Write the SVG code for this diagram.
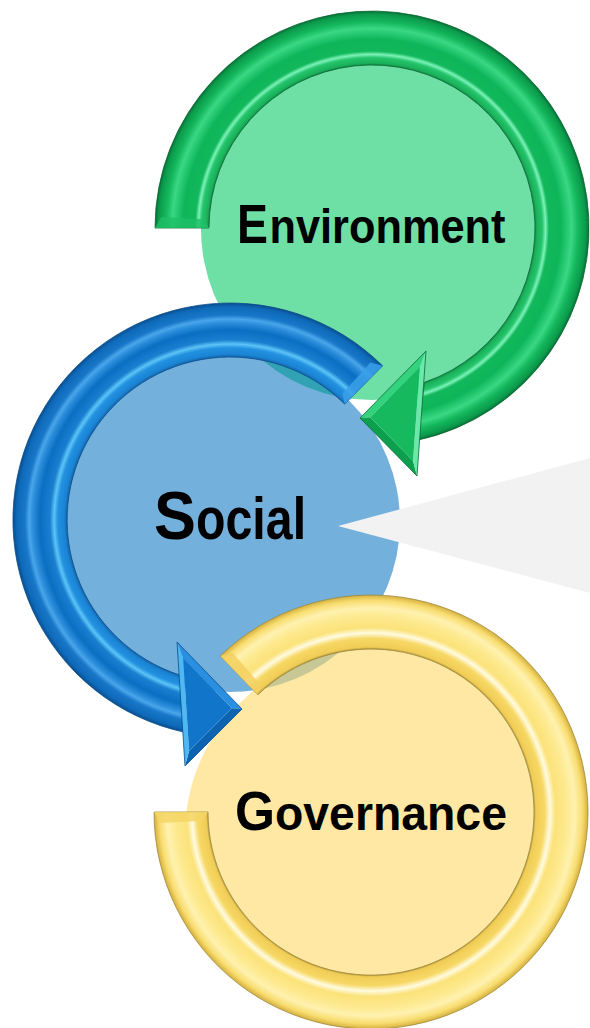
<svg xmlns="http://www.w3.org/2000/svg" width="590" height="1028" viewBox="0 0 590 1028">
<style>
.lbl{font-family:"Liberation Sans",Arial,sans-serif;font-weight:bold;fill:#000;}
.gEdge{stroke:#0b6a34;stroke-width:0.8;}
.bEdge{stroke:#0a4d8c;stroke-width:0.8;}
.yEdge{stroke:#a08a3a;stroke-width:0.8;}
</style>
<defs>
<radialGradient id="gradG" gradientUnits="userSpaceOnUse" cx="372" cy="228" r="217">
<stop offset="0.745" stop-color="#0c6e36"/>
<stop offset="0.76" stop-color="#19b05a"/>
<stop offset="0.785" stop-color="#25c56c"/>
<stop offset="0.80" stop-color="#7cf2b8"/>
<stop offset="0.815" stop-color="#12b85b"/>
<stop offset="0.87" stop-color="#0db659"/>
<stop offset="0.92" stop-color="#3ad784"/>
<stop offset="0.95" stop-color="#14b85d"/>
<stop offset="0.985" stop-color="#0b9a4b"/>
<stop offset="1" stop-color="#086f37"/>
</radialGradient>
<radialGradient id="gradB" gradientUnits="userSpaceOnUse" cx="230" cy="520" r="217">
<stop offset="0.745" stop-color="#10599c"/>
<stop offset="0.765" stop-color="#1b84d4"/>
<stop offset="0.793" stop-color="#2290e0"/>
<stop offset="0.811" stop-color="#5cc4f6"/>
<stop offset="0.83" stop-color="#1a7fcf"/>
<stop offset="0.876" stop-color="#0a6fc2"/>
<stop offset="0.908" stop-color="#2b8ddb"/>
<stop offset="0.926" stop-color="#4aa6ea"/>
<stop offset="0.945" stop-color="#1877c8"/>
<stop offset="0.982" stop-color="#0e6ab9"/>
<stop offset="1" stop-color="#0a4e8e"/>
</radialGradient>
<radialGradient id="gradY" gradientUnits="userSpaceOnUse" cx="371" cy="812" r="217">
<stop offset="0.745" stop-color="#8a7632"/>
<stop offset="0.76" stop-color="#f0cc55"/>
<stop offset="0.80" stop-color="#f7d865"/>
<stop offset="0.825" stop-color="#fffbe0"/>
<stop offset="0.85" stop-color="#fbe27a"/>
<stop offset="0.90" stop-color="#fde98e"/>
<stop offset="0.94" stop-color="#fff2b0"/>
<stop offset="0.975" stop-color="#f8dc6e"/>
<stop offset="1" stop-color="#d4b040"/>
</radialGradient>
</defs>

<g id="fills">
<circle cx="372" cy="229" r="171" fill="#6edfa5"/>
<circle cx="230" cy="522" r="170" fill="#0070c0" fill-opacity="0.55"/>
<circle cx="371" cy="835" r="186" fill="#ffd966" fill-opacity="0.6"/>
</g>

<g id="callout">
<polygon points="338,526 590,458 590,593" fill="#f2f2f2"/>
</g>

<g id="connectors">
<g id="arrow-green">
<path class="gEdge" fill="url(#gradG)" d="M155,228 A217,217 0 1 1 417.1,440.3 L424.5,382.3 A163,163 0 1 0 209,228 Z"/>
<polygon points="155,228 209,228 203.2,219.2 161.3,217" fill="#1fbf66" opacity="0.8"/>
<polygon points="426,351 360,418 370.3,417.3 419.8,367" fill="#33d27c"/>
<polygon points="360,418 417,476 413,460.8 370.3,417.3" fill="#0c9f4d"/>
<polygon points="417,476 426,351 419.8,367 413,460.8" fill="#6ae9aa"/>
<polygon points="419.8,367 370.3,417.3 413,460.8" fill="#17b95f"/>
<polygon points="426,351 360,418 417,476" fill="none" class="gEdge"/>
</g>
<g id="arrow-blue">
<path class="bEdge" fill="url(#gradB)" d="M382.6,365.8 A217,217 0 1 0 184.9,732.3 L179.6,675 A163,163 0 1 1 344.7,404.1 Z"/>
<polygon points="382.6,365.8 344.7,404.1 342.4,393.8 370.4,362.5" fill="#3aa0e8" opacity="0.85"/>
<polygon points="177,642 242,709 231.8,708.2 183.1,657.9" fill="#2a8fe0"/>
<polygon points="242,709 185,766 189.1,750.9 231.8,708.2" fill="#0b63b2"/>
<polygon points="185,766 177,642 183.1,657.9 189.1,750.9" fill="#4db8f2"/>
<polygon points="183.1,657.9 231.8,708.2 189.1,750.9" fill="#1176c9"/>
<polygon points="177,642 242,709 185,766" fill="none" class="bEdge"/>
</g>
<g id="arrow-yellow">
<path class="yEdge" fill="url(#gradY)" d="M220.3,655.9 A217,217 0 1 1 154,812 L208,812 A163,163 0 1 0 257.8,694.8 Z"/>
<polygon points="220.3,655.9 257.8,694.8 260.1,684.5 232.6,652.8" fill="#f3d060" opacity="0.85"/>
<polygon points="154,812 208,812 202.2,820.8 160.3,823" fill="#f5d565" opacity="0.85"/>
</g>
</g>

<g id="node-environment">
<text class="lbl" font-size="56" transform="translate(237,243) scale(0.83,1)">E</text>
<text class="lbl" font-size="48" transform="translate(269.5,243) scale(0.903,1)">nvironment</text>
</g>
<g id="node-social">
<text class="lbl" font-size="68" transform="translate(154,539) scale(0.925,1)">S</text>
<text class="lbl" font-size="60" transform="translate(196,539) scale(0.805,1)">ocial</text>
</g>
<g id="node-governance">
<text class="lbl" font-size="55" transform="translate(235,830) scale(0.935,1)">G</text>
<text class="lbl" font-size="48" transform="translate(275,830) scale(0.966,1)">overnance</text>
</g>
</svg>
